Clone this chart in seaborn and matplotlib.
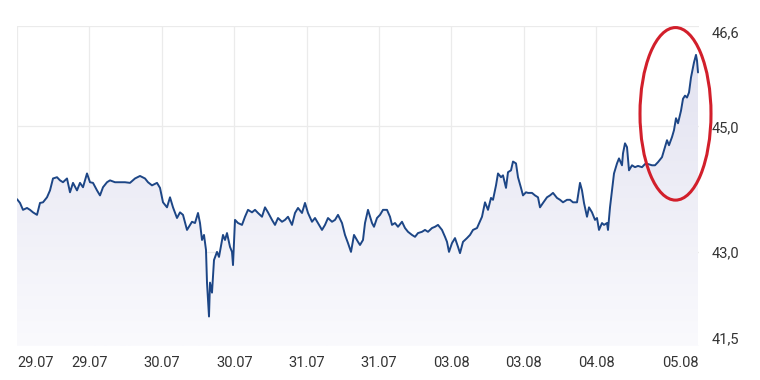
import numpy as np
import matplotlib
matplotlib.use("Agg")
import matplotlib.pyplot as plt
from matplotlib.colors import LinearSegmentedColormap
from matplotlib.patches import Ellipse
import seaborn as sns

# ---- data (time steps and prices) ----
steps = [0, 3, 6, 10, 13, 16, 20, 23, 26, 30, 33, 36, 40, 43, 46, 50, 53, 56, 60, 63, 66, 70, 73, 76, 80, 83, 86, 90, 93, 98, 103, 108, 113,
         118, 123, 128, 131, 135, 140, 143, 146, 150, 153, 156, 160, 163, 166, 170, 175, 178, 181, 183, 185, 187, 189, 190, 192, 193, 195, 197, 200, 202, 206, 208, 210, 213, 215, 216, 218, 221, 225,
         228, 231, 235, 238, 241, 245, 248, 251, 255, 258, 261, 265, 268, 271, 275, 278, 281, 285, 288, 291, 295, 298, 301, 305, 308, 311, 315, 318, 321, 325, 328, 331, 334, 337, 341,
         343, 346, 348, 351, 355, 357, 360, 363, 366, 370, 373, 375, 378, 381, 385, 388, 391, 395, 398, 401, 405, 408, 411, 415, 418, 421, 425, 428, 430, 432, 435, 438, 441, 443, 446, 450, 453, 456,
         460, 465, 468, 471, 474, 476, 479, 481, 484, 486, 489, 491, 494, 496, 499, 501, 504, 506, 509, 511, 515, 518, 521, 523, 526, 530, 533, 536, 540, 543, 546, 550, 553, 556, 560, 563, 565, 567, 570, 572, 575,
         578, 580, 582, 585, 587, 590, 591, 593, 595, 597, 600, 602, 605, 606, 608, 610, 612, 615, 618, 621, 625, 628, 631, 635, 638, 641, 645, 647, 650, 652, 655, 657, 659, 661, 664, 666, 668, 670, 672, 674, 676, 677, 679, 680, 681]

price = [43.84, 43.78, 43.67, 43.70, 43.67, 43.63, 43.59, 43.78, 43.79, 43.87, 43.98, 44.17, 44.19, 44.14, 44.11, 44.17, 43.95, 44.10, 43.98, 44.10, 44.03, 44.25, 44.11, 44.10, 43.98, 43.90, 44.03, 44.11, 44.14, 44.11, 44.11, 44.11, 44.10,
         44.17, 44.21, 44.17, 44.11, 44.06, 44.10, 44.02, 43.79, 43.71, 43.87, 43.71, 43.54, 43.63, 43.59, 43.35, 43.48, 43.46, 43.62, 43.46, 43.19, 43.27, 43.03, 42.51, 41.97, 42.51, 42.35, 42.87, 43.00, 42.92, 43.27, 43.19, 43.30, 43.08, 43.00, 42.79, 43.51, 43.46, 43.43,
         43.56, 43.67, 43.63, 43.67, 43.62, 43.56, 43.71, 43.63, 43.51, 43.43, 43.54, 43.48, 43.51, 43.56, 43.43, 43.62, 43.70, 43.62, 43.78, 43.62, 43.48, 43.54, 43.46, 43.35, 43.43, 43.54, 43.48, 43.51, 43.59, 43.46, 43.27, 43.14, 43.00, 43.27, 43.16,
         43.11, 43.19, 43.46, 43.67, 43.46, 43.40, 43.54, 43.59, 43.67, 43.67, 43.56, 43.43, 43.46, 43.40, 43.48, 43.38, 43.32, 43.27, 43.24, 43.30, 43.32, 43.35, 43.32, 43.38, 43.40, 43.43, 43.35, 43.24, 43.16, 43.00, 43.14, 43.22, 43.08, 42.98, 43.16, 43.22, 43.27, 43.35,
         43.38, 43.56, 43.79, 43.67, 43.86, 43.83, 44.06, 44.25, 44.19, 44.22, 44.02, 44.27, 44.30, 44.44, 44.41, 44.19, 44.02, 43.90, 43.95, 43.94, 43.94, 43.90, 43.87, 43.71, 43.78, 43.87, 43.90, 43.94, 43.86, 43.83, 43.79, 43.83, 43.83, 43.79, 43.79, 44.10, 43.98, 43.78, 43.56, 43.71, 43.63,
         43.51, 43.54, 43.35, 43.46, 43.43, 43.46, 43.35, 43.71, 43.98, 44.25, 44.41, 44.49, 44.38, 44.57, 44.73, 44.67, 44.30, 44.38, 44.35, 44.37, 44.35, 44.40, 44.40, 44.38, 44.38, 44.43, 44.51, 44.62, 44.78, 44.70, 44.83, 44.94, 45.13, 45.05, 45.25, 45.44, 45.49, 45.46, 45.54, 45.78, 45.94, 46.02, 46.14, 46.05, 45.86]

y_ticks = [41.5, 43.0, 45.0, 46.6]
y_labels = ["41,5", "43,0", "45,0", "46,6"]
x_labels = ["29.07", "29.07", "30.07", "30.07", "31.07", "31.07", "03.08", "03.08", "04.08", "05.08"]

# ---- style ----
sns.set_theme(style="white")
plt.rcParams["font.family"] = ["Roboto", "DejaVu Sans"]

fig = plt.figure(figsize=(7.6, 3.8), dpi=100)
ax = fig.add_axes([17 / 760, 34 / 380, 682 / 760, 320 / 380])

x_max = 682
y_min, y_max = 41.5, 46.6

# gradient fill under the line
poly = ax.fill_between(steps, price, y_min, color="none", lw=0)
cmap = LinearSegmentedColormap.from_list("fill", [(250/255, 250/255, 253/255), (224/255, 224/255, 239/255)])
grad = np.linspace(0, 1, 256).reshape(-1, 1)
im = ax.imshow(grad, extent=[0, x_max, y_min, y_max], aspect="auto", cmap=cmap,
               origin="lower", zorder=1)
im.set_clip_path(poly.get_paths()[0], transform=ax.transData)

sns.lineplot(x=steps, y=price, ax=ax, color="#1d4686", lw=1.4, zorder=3)

ax.set_xlim(0, x_max)
ax.set_ylim(y_min, y_max)

# ticks
spacing = 72.4
xt = [k * spacing for k in range(9)] + [x_max]
ax.set_xticks(xt)
ax.set_xticklabels(x_labels)
ax.set_yticks(y_ticks)
ax.set_yticklabels(y_labels)
ax.yaxis.tick_right()
ax.tick_params(axis="both", length=0, labelsize=10.5, labelcolor="#333333")
ax.tick_params(axis="y", pad=9)
ax.tick_params(axis="x", pad=7)
lbls = ax.get_xticklabels()
lbls[0].set_ha("left")
lbls[-1].set_ha("right")
ylbls = ax.get_yticklabels()
ylbls[0].set_va("bottom")
ylbls[-1].set_va("top")

ax.grid(True, color="#ebebeb", lw=0.9, zorder=0)
ax.set_axisbelow(True)
ax.xaxis.get_gridlines()[-1].set_visible(False)
for s in ax.spines.values():
    s.set_visible(False)

# red ellipse highlight
ell = Ellipse((658.5, 45.20), width=71, height=2.75, fill=False, edgecolor="#d21f2b",
              lw=2.2, clip_on=False, zorder=5, transform=ax.transData)
ax.add_patch(ell)

fig.savefig("out.png", dpi=100)
